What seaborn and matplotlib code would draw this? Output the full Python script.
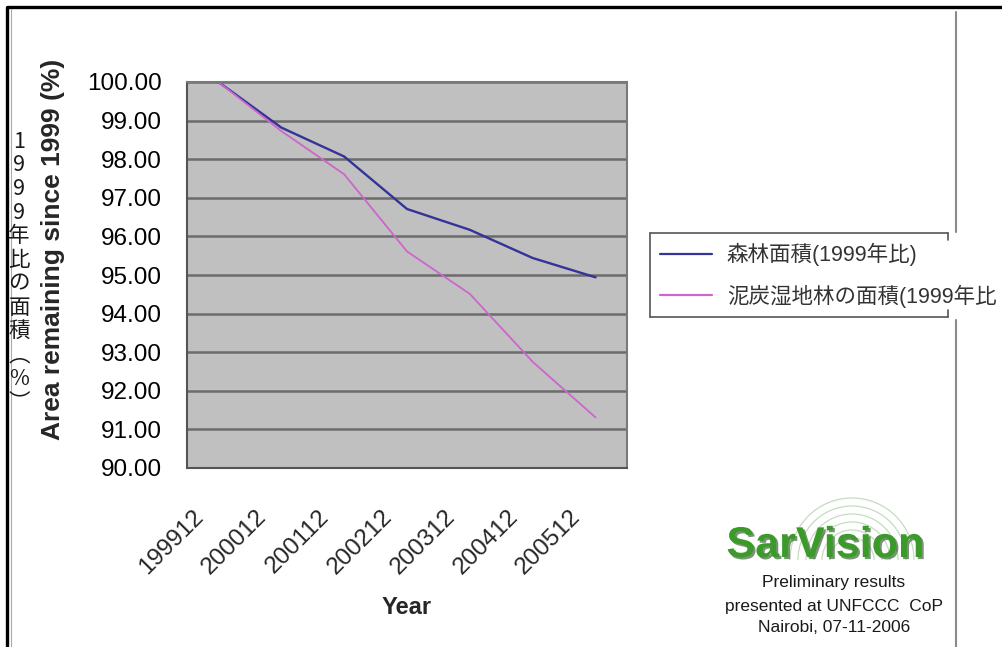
import numpy as np
import pandas as pd
import matplotlib
matplotlib.use("Agg")
import matplotlib.pyplot as plt
import seaborn as sns
from matplotlib.transforms import ScaledTranslation
from matplotlib.lines import Line2D
from matplotlib.patches import Arc
import matplotlib.patheffects as pe

# ---- data ----
periods = ["199912", "200012", "200112", "200212", "200312", "200412", "200512"]
forest = [100.00, 98.82, 98.07, 96.71, 96.17, 95.44, 94.94]
peat = [100.00, 98.73, 97.61, 95.61, 94.51, 92.75, 91.31]
series_names = ["森林面積(1999年比)", "泥炭湿地林の面積(1999年比"]
series_colors = ["#333399", "#CC66CC"]
y_ticks = [90, 91, 92, 93, 94, 95, 96, 97, 98, 99, 100]
ylabel_en = "Area remaining since 1999 (%)"
ylabel_jp = list("1999年比の面積") + ["︵", "%", "︶"]
xlabel = "Year"
logo_text = "SarVision"
note_lines = ["Preliminary results", "presented at UNFCCC  CoP", "Nairobi, 07-11-2006"]

sns.set_style("white")
plt.rcParams["font.family"] = ["Liberation Sans", "Noto Sans CJK JP", "DejaVu Sans"]

W, H = 1002, 647
fig = plt.figure(figsize=(W / 100, H / 100), dpi=100)
fig.patch.set_facecolor("white")

def fx(px):
    return px / W

def fy(py):
    return 1 - py / H

ax = fig.add_axes([fx(187), fy(468), fx(627) - fx(187), fy(82) - fy(468)])

df = pd.DataFrame({
    "period": periods * 2,
    "value": forest + peat,
    "series": [series_names[0]] * len(periods) + [series_names[1]] * len(periods),
})
sns.lineplot(data=df, x="period", y="value", hue="series",
             palette=dict(zip(series_names, series_colors)), ax=ax,
             legend=False, sort=False, linewidth=1.7)
ax.lines[1].set_linewidth(1.3)

ax.set_facecolor("#c0c0c0")
ax.set_xlim(-0.5, len(periods) - 0.5)
ax.set_ylim(min(y_ticks), max(y_ticks))
ax.set_yticks(y_ticks)
ax.set_yticklabels([f"{v:.2f}" for v in y_ticks], fontsize=17.5, color="black")
ax.set_axisbelow(True)
ax.yaxis.grid(True, color="#6c6c6c", linewidth=1.8)
ax.xaxis.grid(False)

ax.set_xticks(np.arange(len(periods) + 1) - 0.5)
ax.set_xticklabels([])
ax.set_xticks(np.arange(len(periods)), minor=True)
ax.set_xticklabels(periods, minor=True, rotation=45, ha="right",
                   rotation_mode="anchor", fontsize=17.5)
ax.tick_params(axis="x", which="minor", length=0, pad=27)
ax.tick_params(axis="x", which="major", length=6, width=1.2, color="#555555", direction="out")
ax.tick_params(axis="y", length=6, width=1.2, color="#555555", direction="out", pad=12)
off = ScaledTranslation(-26 / 100, 0, fig.dpi_scale_trans)
for lab in ax.get_xticklabels(minor=True):
    lab.set_transform(lab.get_transform() + off)

for name, sp in ax.spines.items():
    sp.set_visible(True)
    sp.set_color("#7a7a7a")
    sp.set_linewidth(1.5)
ax.spines["left"].set_color("#555555")
ax.spines["bottom"].set_color("#555555")

ax.set_xlabel("")
ax.set_ylabel("")
fig.text(fx(407), fy(608), xlabel, fontsize=17, fontweight="bold", ha="center", va="center")
fig.text(fx(53), fy(249), ylabel_en, fontsize=19, fontweight="bold", rotation=90,
         ha="center", va="center")
fig.text(fx(19), fy(272), "\n".join(ylabel_jp), fontsize=15.5, ha="center", va="center",
         multialignment="center", linespacing=1.1, color="#1a1a1a",
         family=["Noto Sans CJK JP", "DejaVu Sans"])

# ---- legend ----
handles = [Line2D([], [], color=c, lw=1.6) for c in series_colors]
fig.legend(handles, series_names, loc="upper left", bbox_to_anchor=(fx(660), fy(243)),
           bbox_transform=fig.transFigure, frameon=False, fontsize=15.5,
           handlelength=2.4, handletextpad=0.7, labelspacing=0.85, borderpad=0,
           borderaxespad=0, labelcolor="#333333")
box_col = "#555555"
for (x0, y0, x1, y1) in [(650, 233, 948, 233), (948, 233, 948, 240), (650, 233, 650, 317),
                         (650, 317, 948, 317), (948, 317, 948, 310)]:
    fig.add_artist(Line2D([fx(x0), fx(x1)], [fy(y0), fy(y1)], color=box_col, lw=1.2,
                          transform=fig.transFigure))

# ---- frame decorations ----
fig.add_artist(Line2D([fx(8), fx(1002)], [fy(7), fy(7)], color="black", lw=2.4, transform=fig.transFigure))
fig.add_artist(Line2D([fx(7), fx(7)], [fy(7), fy(647)], color="black", lw=2.4, transform=fig.transFigure))
fig.add_artist(Line2D([fx(11), fx(11)], [fy(9), fy(647)], color="#aaaaaa", lw=0.8, transform=fig.transFigure))
for (y0, y1) in [(12, 232), (320, 647)]:
    fig.add_artist(Line2D([fx(956), fx(956)], [fy(y0), fy(y1)], color="#8a8a8a", lw=1.5,
                          transform=fig.transFigure))

# ---- logo ----
for r in [22, 30, 38, 46, 54, 62]:
    fig.add_artist(Arc((fx(852), fy(560)), 2 * r / W, 2 * r / H, theta1=0, theta2=180,
                       color="#c4dcc0", lw=0.9, transform=fig.transFigure))
fig.text(fx(825), fy(546), logo_text, fontsize=31, fontweight="bold", color="#3a9a2a",
         ha="center", va="center", family=["Liberation Sans Narrow", "Liberation Sans"],
         path_effects=[pe.withSimplePatchShadow(offset=(1.5, -1.5), shadow_rgbFace="#1d4f15", alpha=0.6)])
for txt, yy in zip(note_lines, [583, 606, 628]):
    fig.text(fx(834), fy(yy), txt, fontsize=12.5, color="#1a1a1a", ha="center", va="center")

fig.savefig("out.png", dpi=100)
